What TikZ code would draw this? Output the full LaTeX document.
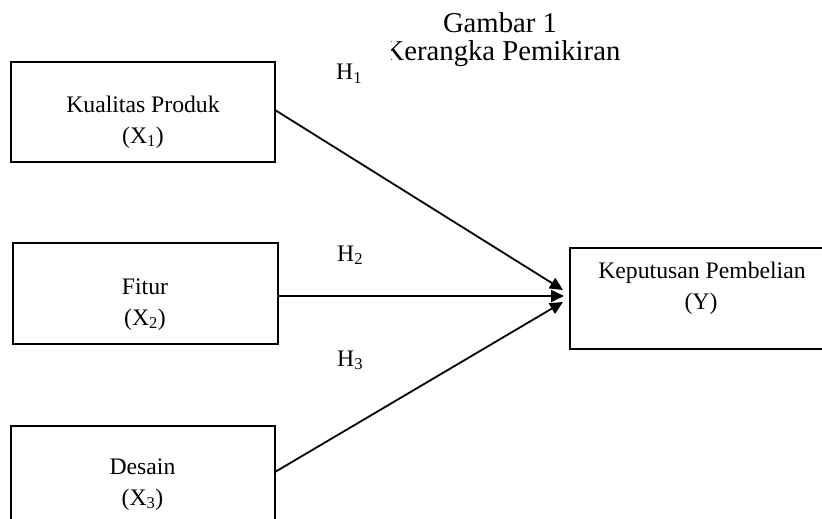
\documentclass[tikz,border=0pt]{standalone}
\usepackage{fontspec}
\setmainfont{Liberation Serif}
\usetikzlibrary{arrows.meta}
\begin{document}
\begin{tikzpicture}[x=1pt,y=-1pt,
  box/.style={draw=black,line width=1.9pt,rectangle,minimum width=264pt,minimum height=100pt,inner sep=0pt,outer sep=0pt},
  lbl/.style={anchor=base,inner sep=0pt,font=\fontsize{23.7}{28}\selectfont},
  ttl/.style={anchor=base,inner sep=0pt,font=\fontsize{28.7}{34}\selectfont},
  conn/.style={line width=1.8pt,-{Triangle[length=13pt,width=12pt]}}]
\useasboundingbox (0,0) rectangle (822,519);
\clip (0,0) rectangle (822,519);
\fill[white] (0,0) rectangle (822,519);
% title
\node[ttl] (t1) at (500,33) {Gambar 1};
\node[ttl] (t2) at (502,61) {Kerangka Pemikiran};
\fill[white] (328,36) rectangle (390.5,92);
% boxes
\node[box] (b1) at (143,112) {};
\node[box,minimum width=265pt,minimum height=101pt] (b2) at (145.5,293.5) {};
\node[box,minimum height=101pt] (b3) at (143,476.5) {};
\node[box,minimum height=101pt] (y) at (702,298.5) {};
% texts
\node[lbl] (k1) at (143,112) {Kualitas Produk};
\node[lbl] (k2) at (143,143) {(X\textsubscript{1})};
\node[lbl] (f1) at (145,294) {Fitur};
\node[lbl] (f2) at (145,325) {(X\textsubscript{2})};
\node[lbl] (d1) at (142.5,474) {Desain};
\node[lbl] (d2) at (142.5,505) {(X\textsubscript{3})};
\node[lbl] (y1) at (702,278) {Keputusan Pembelian};
\node[lbl] (y2) at (701,309) {(Y)};
% hypothesis labels
\node[lbl,anchor=base west] (h1) at (336,80) {H\textsubscript{1}};
\node[lbl,anchor=base west] (h2) at (337,261) {H\textsubscript{2}};
\node[lbl,anchor=base west] (h3) at (337,366) {H\textsubscript{3}};
% connectors
\coordinate (p1) at ([yshift=2pt]b1.east);
\coordinate (p2) at ([yshift=-2.5pt]b2.east);
\coordinate (p3) at ([yshift=4.5pt]b3.east);
\coordinate (e1) at (563,290);
\coordinate (e2) at (564,296);
\coordinate (e3) at (563,302);
\draw[conn] (p1) -- (e1);
\draw[conn] (p2) -- (e2);
\draw[conn] (p3) -- (e3);
\end{tikzpicture}
\end{document}
